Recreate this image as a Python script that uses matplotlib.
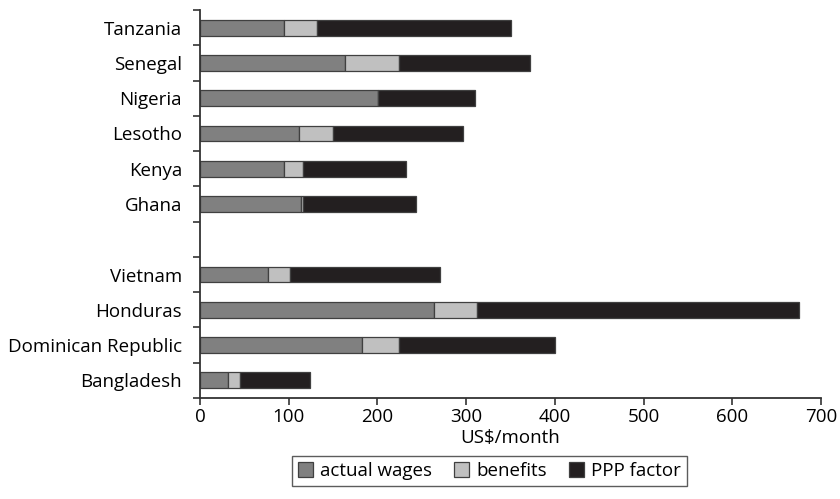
import matplotlib.pyplot as plt
import numpy as np
from matplotlib.ticker import FixedLocator

plt.rcParams['font.family'] = ['Open Sans', 'DejaVu Sans']

# countries, top to bottom; None marks the blank row between the two groups
countries = ["Tanzania", "Senegal", "Nigeria", "Lesotho", "Kenya", "Ghana", None,
             "Vietnam", "Honduras", "Dominican Republic", "Bangladesh"]
# cumulative end points (US$/month)
wages_end = [95, 163, 201, 112, 95, 114, None, 77, 264, 183, 31]
benefits_end = [132, 224, 201, 150, 116, 116, None, 101, 312, 224, 45]
total_end = [350, 372, 310, 297, 232, 243, None, 271, 675, 400, 124]

c_wage = '#808080'
c_ben = '#c0c0c0'
c_ppp = '#231f20'
edge = '#404040'
fs = 13.5

fig = plt.figure(figsize=(8.4, 4.99), dpi=100)
ax = fig.add_axes([200 / 840, 1 - 398 / 499, 621 / 840, 388 / 499])

n = len(countries)
rows = [i for i, c in enumerate(countries) if c is not None]
ypos = np.array([n - 1 - i for i in rows], dtype=float)
w = np.array([wages_end[i] for i in rows], dtype=float)
b = np.array([benefits_end[i] for i in rows], dtype=float)
t = np.array([total_end[i] for i in rows], dtype=float)

h = 0.45
ax.barh(ypos, w, height=h, color=c_wage, edgecolor=edge, linewidth=0.9, label='actual wages')
ax.barh(ypos, b - w, left=w, height=h, color=c_ben, edgecolor=edge, linewidth=0.9, label='benefits')
ax.barh(ypos, t - b, left=b, height=h, color=c_ppp, edgecolor=edge, linewidth=0.9, label='PPP factor')

ax.set_xlim(0, 700)
ax.set_ylim(-0.5, n - 0.5)
ax.set_xticks(np.arange(0, 701, 100))
ax.set_yticks(ypos)
ax.set_yticklabels([countries[i] for i in rows])
ax.yaxis.set_minor_locator(FixedLocator(np.arange(-0.5, n, 1.0)))
ax.tick_params(axis='y', which='major', length=0, pad=13, labelsize=fs)
ax.tick_params(axis='y', which='minor', length=5, width=1.2, color='#333333')
ax.tick_params(axis='x', length=5, width=1.2, color='#333333', labelsize=fs, pad=2)

for s in ['top', 'right']:
    ax.spines[s].set_visible(False)
for s in ['left', 'bottom']:
    ax.spines[s].set_linewidth(1.3)
    ax.spines[s].set_color('#333333')

ax.set_xlabel('US$/month', fontsize=fs, labelpad=2)

leg = fig.legend(loc='center', bbox_to_anchor=(489.5 / 840, 1 - 471 / 499), ncol=3,
                 fontsize=fs, frameon=True, fancybox=False, edgecolor='#333333',
                 handlelength=0.8, handleheight=0.8, columnspacing=1.15, handletextpad=0.4,
                 borderpad=0.3, borderaxespad=0)
leg.get_frame().set_linewidth(1.0)

fig.savefig('out.png', dpi=100)
